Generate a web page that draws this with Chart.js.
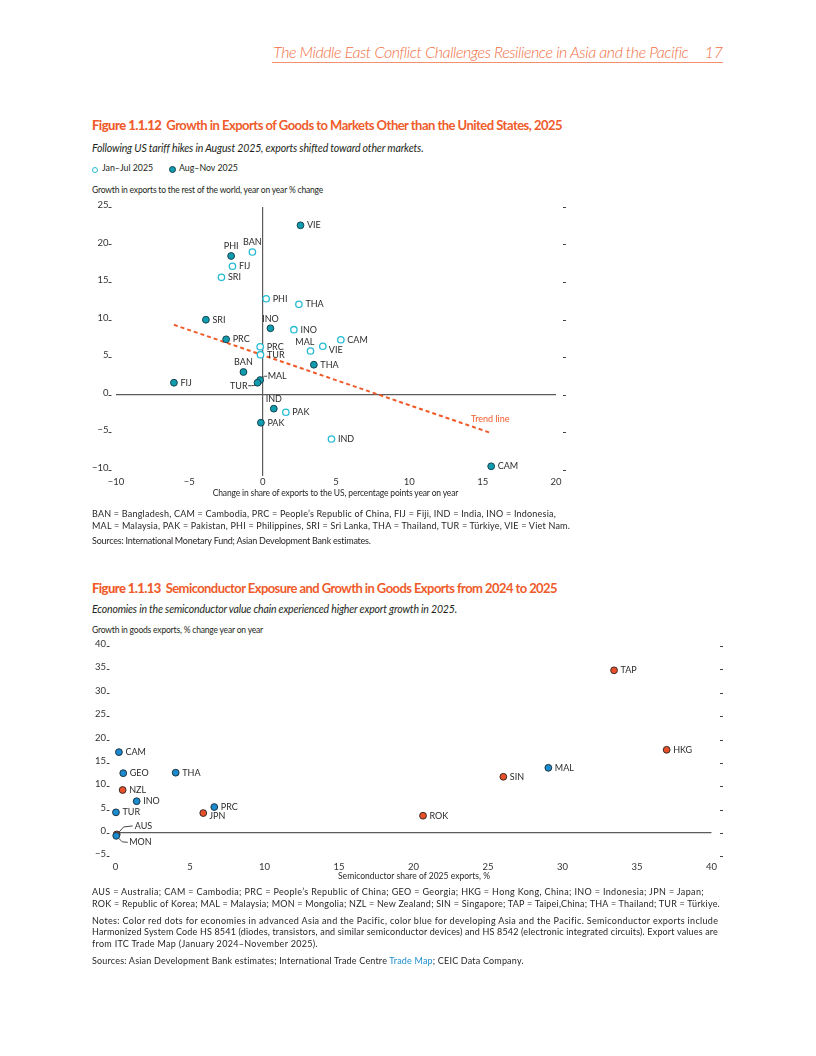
<!DOCTYPE html>
<html>
<head>
<meta charset="utf-8">
<script src="https://cdn.jsdelivr.net/npm/chart.js@4.4.1/dist/chart.umd.min.js"></script>
<style>
  body { margin: 0; width: 816px; height: 1056px; position: relative; background: #fff; font-family: Lato, sans-serif; color: #231f20; }
  .t { position: absolute; white-space: nowrap; line-height: 1; }
  .hdr { font-size: 16px; font-style: italic; font-weight: 300; color: #f26f45; }
  .ttl { font-size: 13px; font-weight: 700; color: #ef5b2b; }
  .ttl b { font-weight: 900; margin-right: 5px; }
  .sub { font-size: 10.5px; font-style: italic; }
  .ax { font-size: 8.5px; }
  .note { font-size: 9px; }
  .leg { font-size: 8.8px; }
  .dot { position: absolute; border-radius: 50%; box-sizing: border-box; }
  canvas { position: absolute; }
</style>
</head>
<body>

<div class="t hdr" style="top:44px;right:93px;"><span data-w="415">The Middle East Conflict Challenges Resilience in Asia and the Pacific</span><span style="margin-left:16px">17</span></div>
<div style="position:absolute;left:272px;top:62px;width:451px;border-top:1px solid #f4906c;"></div>

<div class="t ttl" style="left:92px;top:119px;" data-w="470"><b>Figure 1.1.12</b>Growth in Exports of Goods to Markets Other than the United States, 2025</div>
<div class="t sub" style="left:92px;top:142.5px;" data-w="331">Following US tariff hikes in August 2025, exports shifted toward other markets.</div>
<span class="dot" style="left:92px;top:166.5px;width:6px;height:6px;border:1.2px solid #27bcd3;"></span>
<div class="t leg" style="left:102px;top:164.3px;">Jan–Jul 2025</div>
<span class="dot" style="left:169px;top:166px;width:7px;height:7px;background:#119db0;border:1px solid #16414d;"></span>
<div class="t leg" style="left:179px;top:164.3px;">Aug–Nov 2025</div>
<div class="t ax" style="left:92px;top:185.6px;" data-w="231">Growth in exports to the rest of the world, year on year % change</div>

<canvas id="chart1" width="520" height="300" style="left:60px;top:190px;"></canvas>

<div class="t ax" style="left:212.7px;top:488.6px;" data-w="245.6">Change in share of exports to the US, percentage points year on year</div>
<div class="t note" style="left:92px;top:508.8px;" data-w="464">BAN = Bangladesh, CAM = Cambodia, PRC = People’s Republic of China, FIJ = Fiji, IND = India, INO = Indonesia,</div>
<div class="t note" style="left:92px;top:520.5px;" data-w="478">MAL = Malaysia, PAK = Pakistan, PHI = Philippines, SRI = Sri Lanka, THA = Thailand, TUR = Türkiye, VIE = Viet Nam.</div>
<div class="t note" style="left:92px;top:535.7px;" data-w="279">Sources: International Monetary Fund; Asian Development Bank estimates.</div>

<div class="t ttl" style="left:92px;top:581.8px;" data-w="465"><b>Figure 1.1.13</b>Semiconductor Exposure and Growth in Goods Exports from 2024 to 2025</div>
<div class="t sub" style="left:92px;top:603.9px;" data-w="365">Economies in the semiconductor value chain experienced higher export growth in 2025.</div>
<div class="t ax" style="left:92px;top:625.8px;" data-w="171">Growth in goods exports, % change year on year</div>

<canvas id="chart2" width="680" height="240" style="left:60px;top:636px;"></canvas>

<div class="t ax" style="left:338px;top:872px;" data-w="152">Semiconductor share of 2025 exports, %</div>
<div class="t note" style="left:92px;top:887.3px;" data-w="612">AUS = Australia; CAM = Cambodia; PRC = People’s Republic of China; GEO = Georgia; HKG = Hong Kong, China; INO = Indonesia; JPN = Japan;</div>
<div class="t note" style="left:92px;top:899px;" data-w="628">ROK = Republic of Korea; MAL = Malaysia; MON = Mongolia; NZL = New Zealand; SIN = Singapore; TAP = Taipei,China; THA = Thailand; TUR = Türkiye.</div>
<div class="t note" style="left:92px;top:915.5px;" data-w="626">Notes: Color red dots for economies in advanced Asia and the Pacific, color blue for developing Asia and the Pacific. Semiconductor exports include</div>
<div class="t note" style="left:92px;top:927px;" data-w="626">Harmonized System Code HS 8541 (diodes, transistors, and similar semiconductor devices) and HS 8542 (electronic integrated circuits). Export values are</div>
<div class="t note" style="left:92px;top:938.7px;" data-w="226">from ITC Trade Map (January 2024–November 2025).</div>
<div class="t note" style="left:92px;top:956.2px;" data-w="432">Sources: Asian Development Bank estimates; International Trade Centre <span style="color:#1d8fcf">Trade Map</span>; CEIC Data Company.</div>

<script>
// Figure 1.1.12
const economies1 = ['BAN', 'CAM', 'PRC', 'FIJ', 'IND', 'INO', 'MAL', 'PAK', 'PHI', 'SRI', 'THA', 'TUR', 'VIE']
const usShareJanJul = [-0.7, 5.33, -0.17, -2.06, 4.69, 2.13, 3.26, 1.58, 0.24, -2.81, 2.47, -0.15, 4.1]
const growthJanJul = [19.0, 7.3, 6.37, 17.1, -5.93, 8.64, 5.8, -2.37, 12.77, 15.63, 12.03, 5.31, 6.43]
const usShareAugNov = [-1.31, 15.58, -2.49, -6.05, 0.76, 0.53, -0.17, -0.12, -2.15, -3.87, 3.49, -0.35, 2.58]
const growthAugNov = [3.0, -9.57, 7.36, 1.57, -1.89, 8.83, 1.93, -3.76, 18.47, 9.97, 3.97, 1.57, 22.56]
const xTicks1 = [-10, -5, 0, 5, 10, 15, 20]
const yTicks1 = [-10, -5, 0, 5, 10, 15, 20, 25]

// label placement (styling only)
const placeJanJul = { BAN: 't', MAL: 'tl', VIE: 'br' }
const placeAugNov = { BAN: 't', IND: 't', INO: 't', PHI: 't', MAL: 'leadR', TUR: 'leadL' }

// Figure 1.1.13
const advancedNames = ['AUS', 'HKG', 'JPN', 'ROK', 'NZL', 'SIN', 'TAP']
const advancedSemiShare = [0.08, 36.99, 5.89, 20.64, 0.48, 26.03, 33.46]
const advancedGrowth = [-0.3, 17.8, 4.27, 3.7, 9.2, 12.03, 34.8]
const developingNames = ['CAM', 'PRC', 'GEO', 'INO', 'MAL', 'MON', 'THA', 'TUR']
const developingSemiShare = [0.23, 6.63, 0.52, 1.42, 29.05, 0.05, 4.04, 0.03]
const developingGrowth = [17.3, 5.56, 12.8, 6.8, 13.95, -0.6, 12.9, 4.42]
const yTicks2 = [-5, 0, 5, 10, 15, 20, 25, 30, 35, 40]
const placeAdvanced = { JPN: 'br', AUS: 'aus' }
const placeDeveloping = { MON: 'mon' }

const MODES = {
  r: { dx: 6.5, dy: 0, align: 'left' },
  t: { dx: 0, dy: -9.5, align: 'center' },
  tl: { dx: -5.6, dy: -8.5, align: 'center' },
  br: { dx: 6, dy: 3.5, align: 'left' },
  up: { dx: -1, dy: -14, align: 'center' },
  leadR: { dx: 7.5, dy: -3.5, align: 'left', lead: [[2.5, -2.5], [4.5, -3.8], [7, -3.8]] },
  leadL: { dx: -10, dy: 3.8, align: 'right', lead: [[-2.5, 2.5], [-6, 3], [-9.5, 3]] },
  aus: { dx: 18, dy: -8.5, align: 'left', lead: [[2.5, -2.5], [7, -7.5], [16, -8.5]] },
  mon: { dx: 13, dy: 6.5, align: 'left', lead: [[2.5, 2.5], [6, 6], [11.5, 6.5]] }
}

const toPoints = (xs, ys) => xs.map((x, i) => ({ x: x, y: ys[i] }))
const minus = v => (v < 0 ? '\u2212' + Math.abs(v) : '' + v)

// least squares trend of the Aug-Nov points
function trend(xs, ys) {
  const n = xs.length
  const mx = xs.reduce((a, b) => a + b, 0) / n
  const my = ys.reduce((a, b) => a + b, 0) / n
  let sxy = 0, sxx = 0
  xs.forEach((x, i) => { sxy += (x - mx) * (ys[i] - my); sxx += (x - mx) * (x - mx) })
  const b = sxy / sxx, a = my - b * mx
  const x0 = Math.min(...xs), x1 = Math.max(...xs)
  return [{ x: x0, y: a + b * x0 }, { x: x1, y: a + b * x1 }]
}

const pointLabels = {
  id: 'pointLabels',
  afterDatasetsDraw(chart) {
    const ctx = chart.ctx
    ctx.save()
    ctx.font = '9px Lato'
    ctx.textBaseline = 'middle'
    chart.data.datasets.forEach((ds, i) => {
      if (!ds.names) return
      const meta = chart.getDatasetMeta(i)
      meta.data.forEach((el, j) => {
        const name = ds.names[j]
        if (!name) return
        const m = MODES[(ds.places && ds.places[name]) || 'r']
        ctx.fillStyle = ds.labelColor || '#2a2a2a'
        if (m.lead) {
          ctx.strokeStyle = '#333'
          ctx.lineWidth = 0.9
          ctx.beginPath()
          m.lead.forEach((p, k) => k ? ctx.lineTo(el.x + p[0], el.y + p[1]) : ctx.moveTo(el.x + p[0], el.y + p[1]))
          ctx.stroke()
        }
        ctx.textAlign = m.align
        ctx.fillText(name, el.x + m.dx, el.y + m.dy)
      })
    })
    ctx.restore()
  }
}

const tickDashes = {
  id: 'tickDashes',
  afterDraw(chart, args, opts) {
    const { ctx, chartArea } = chart
    const y = chart.scales.y
    ctx.save()
    ctx.strokeStyle = '#444'
    ctx.lineWidth = 1
    y.ticks.forEach(t => {
      const py = Math.round(y.getPixelForValue(t.value)) + 0.5
      ctx.beginPath()
      ctx.moveTo(chartArea.left - opts.left[0], py)
      ctx.lineTo(chartArea.left - opts.left[1], py)
      ctx.moveTo(chartArea.right + opts.right[0], py)
      ctx.lineTo(chartArea.right + opts.right[1], py)
      ctx.stroke()
    })
    ctx.restore()
  }
}

Chart.defaults.font.family = 'Lato'
Chart.defaults.font.size = 9.5
Chart.defaults.color = '#333'

const zeroLine = c => (c.tick && c.tick.value === 0 ? '#5b5b5b' : 'rgba(0,0,0,0)')
// keep the y axis from pushing the plot area down
const fixY = w => s => { s.width = w; s.paddingTop = 0; s.paddingBottom = 0 }

new Chart(document.getElementById('chart1'), {
  type: 'scatter',
  data: {
    datasets: [
      {
        label: 'Trend line',
        data: trend(usShareAugNov, growthAugNov),
        showLine: true,
        borderColor: '#f05a28',
        borderWidth: 2,
        borderDash: [4, 3],
        pointRadius: 0,
        names: ['', 'Trend line'],
        places: { 'Trend line': 'up' },
        labelColor: '#f05a28',
        order: 3
      },
      {
        label: 'Jan–Jul 2025',
        data: toPoints(usShareJanJul, growthJanJul),
        names: economies1,
        places: placeJanJul,
        backgroundColor: '#ffffff',
        borderColor: '#27bcd3',
        borderWidth: 1.3,
        pointRadius: 3.2,
        clip: false,
        order: 2
      },
      {
        label: 'Aug–Nov 2025',
        data: toPoints(usShareAugNov, growthAugNov),
        names: economies1,
        places: placeAugNov,
        backgroundColor: '#119db0',
        borderColor: '#16414d',
        borderWidth: 1,
        pointRadius: 3.4,
        clip: false,
        order: 1
      }
    ]
  },
  options: {
    responsive: false,
    animation: false,
    layout: { padding: { top: 17, right: 24, left: 0, bottom: 0 } },
    plugins: {
      legend: { display: false },
      tooltip: { enabled: false },
      tickDashes: { left: [7.5, 4.5], right: [7, 10] }
    },
    scales: {
      x: {
        type: 'linear', min: -10, max: 20,
        afterBuildTicks: s => { s.ticks = xTicks1.map(v => ({ value: v })) },
        afterFit: s => { s.height = 14.5 },
        border: { display: false },
        grid: { color: zeroLine, lineWidth: 1.2, drawTicks: false },
        ticks: { padding: 1, callback: minus }
      },
      y: {
        type: 'linear', min: -10.8, max: 25,
        afterBuildTicks: s => { s.ticks = yTicks1.map(v => ({ value: v })) },
        afterFit: fixY(56),
        border: { display: false },
        grid: { color: zeroLine, lineWidth: 1.2, drawTicks: false },
        ticks: { padding: 7.5, labelOffset: -2, callback: minus }
      }
    }
  },
  plugins: [pointLabels, tickDashes]
})

new Chart(document.getElementById('chart2'), {
  type: 'scatter',
  data: {
    datasets: [
      {
        label: 'Developing Asia and the Pacific',
        data: toPoints(developingSemiShare, developingGrowth),
        names: developingNames,
        places: placeDeveloping,
        backgroundColor: '#1b8bd0',
        borderColor: '#1c3440',
        borderWidth: 1,
        pointRadius: 3.4,
        clip: false
      },
      {
        label: 'Advanced Asia and the Pacific',
        data: toPoints(advancedSemiShare, advancedGrowth),
        names: advancedNames,
        places: placeAdvanced,
        backgroundColor: '#e8502a',
        borderColor: '#3a2a25',
        borderWidth: 1,
        pointRadius: 3.4,
        clip: false
      }
    ]
  },
  options: {
    responsive: false,
    animation: false,
    layout: { padding: { top: 10, right: 28.5, left: 0, bottom: 0 } },
    plugins: {
      legend: { display: false },
      tooltip: { enabled: false },
      tickDashes: { left: [8.8, 6], right: [8.5, 11.5] }
    },
    scales: {
      x: {
        type: 'linear', min: 0, max: 40,
        ticks: { stepSize: 5, padding: 4.5 },
        afterFit: s => { s.height = 19.6 },
        border: { display: false },
        grid: { display: false, drawTicks: false }
      },
      y: {
        type: 'linear', min: -5, max: 40,
        afterBuildTicks: s => { s.ticks = yTicks2.map(v => ({ value: v })) },
        afterFit: fixY(55.5),
        border: { display: false },
        grid: { color: zeroLine, lineWidth: 1.2, drawTicks: false },
        ticks: { padding: 9.5, labelOffset: -2, callback: minus }
      }
    }
  },
  plugins: [pointLabels, tickDashes]
})

// fit text runs to the widths measured on the reference
document.querySelectorAll('[data-w]').forEach(el => {
  const target = +el.dataset.w
  const n = el.textContent.length
  const w = el.getBoundingClientRect().width
  el.style.letterSpacing = ((target - w) / n).toFixed(3) + 'px'
})
</script>
</body>
</html>
